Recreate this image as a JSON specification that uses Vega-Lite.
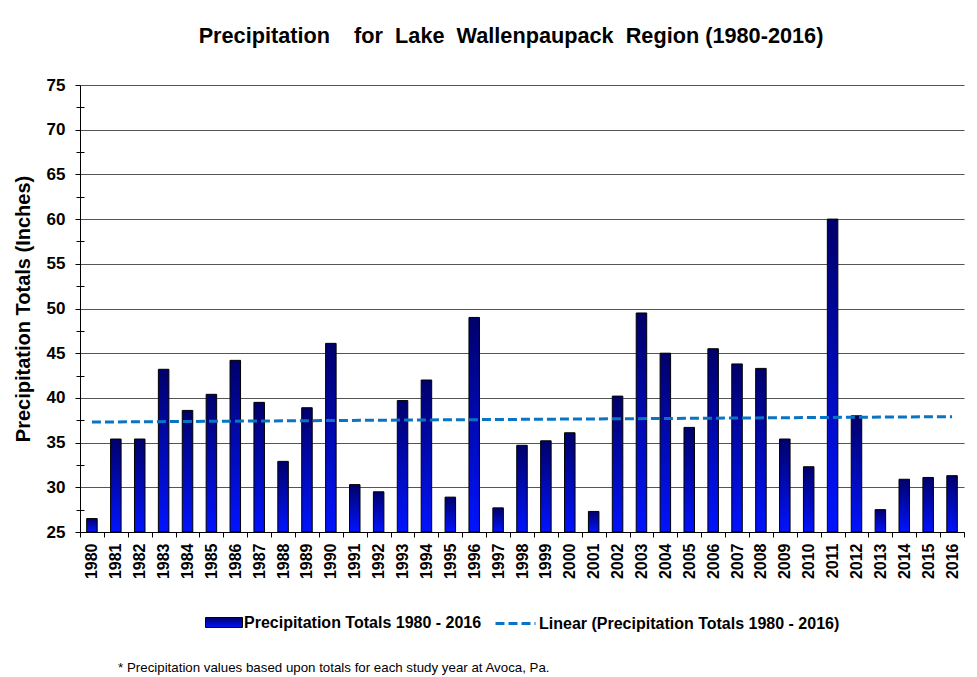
{
  "$schema": "https://vega.github.io/schema/vega-lite/v6.json",
  "background": "white",
  "padding": {"left": 13, "top": 26, "right": 5, "bottom": 5},
  "title": {
    "text": "* Precipitation values based upon totals for each study year at Avoca, Pa.",
    "orient": "bottom",
    "anchor": "start",
    "dx": 105,
    "offset": 29,
    "fontSize": 13.3,
    "fontWeight": "normal",
    "font": "Liberation Sans",
    "color": "black"
  },
  "datasets": {
    "precip": [
      {"Year": "1980", "Precip": 26.5},
      {"Year": "1981", "Precip": 35.4},
      {"Year": "1982", "Precip": 35.4},
      {"Year": "1983", "Precip": 43.2},
      {"Year": "1984", "Precip": 38.6},
      {"Year": "1985", "Precip": 40.4},
      {"Year": "1986", "Precip": 44.2},
      {"Year": "1987", "Precip": 39.5},
      {"Year": "1988", "Precip": 32.9},
      {"Year": "1989", "Precip": 38.9},
      {"Year": "1990", "Precip": 46.1},
      {"Year": "1991", "Precip": 30.3},
      {"Year": "1992", "Precip": 29.5},
      {"Year": "1993", "Precip": 39.7},
      {"Year": "1994", "Precip": 42.0},
      {"Year": "1995", "Precip": 28.9},
      {"Year": "1996", "Precip": 49.0},
      {"Year": "1997", "Precip": 27.7},
      {"Year": "1998", "Precip": 34.7},
      {"Year": "1999", "Precip": 35.2},
      {"Year": "2000", "Precip": 36.1},
      {"Year": "2001", "Precip": 27.3},
      {"Year": "2002", "Precip": 40.2},
      {"Year": "2003", "Precip": 49.5},
      {"Year": "2004", "Precip": 45.0},
      {"Year": "2005", "Precip": 36.7},
      {"Year": "2006", "Precip": 45.5},
      {"Year": "2007", "Precip": 43.8},
      {"Year": "2008", "Precip": 43.3},
      {"Year": "2009", "Precip": 35.4},
      {"Year": "2010", "Precip": 32.3},
      {"Year": "2011", "Precip": 60.0},
      {"Year": "2012", "Precip": 38.0},
      {"Year": "2013", "Precip": 27.5},
      {"Year": "2014", "Precip": 30.9},
      {"Year": "2015", "Precip": 31.1},
      {"Year": "2016", "Precip": 31.3}
    ],
    "trend": [
      {"Year": "1980", "Trend": 37.3},
      {"Year": "2016", "Trend": 37.9}
    ]
  },
  "vconcat": [
    {
      "title": {
        "text": "Precipitation\u00a0\u00a0\u00a0 for\u00a0 Lake\u00a0 Wallenpaupack\u00a0 Region (1980-2016)",
        "anchor": "middle",
        "dx": -11,
        "offset": 28,
        "fontSize": 21.7,
        "fontWeight": "bold",
        "font": "Liberation Sans",
        "color": "black"
      },
      "width": 884,
      "height": 447,
      "layer": [
        {
          "data": {"name": "precip"},
          "mark": {
            "type": "bar",
            "width": {"band": 0.44},
            "strokeWidth": 1,
            "fill": {"gradient": "linear", "x1": 0, "y1": 0, "x2": 0, "y2": 1,
                     "stops": [{"offset": 0, "color": "#00006a"}, {"offset": 1, "color": "#0014ff"}]}
          },
          "encoding": {
            "x": {
              "field": "Year",
              "type": "ordinal",
              "scale": {"paddingInner": 0, "paddingOuter": 0},
              "axis": {
                "title": null,
                "tickBand": "extent",
                "labelAngle": -90,
                "labelFontSize": 16,
                "labelFontWeight": "bold",
                "labelPadding": 6,
                "tickSize": 5,
                "grid": false
              }
            },
            "y": {
              "field": "Precip",
              "type": "quantitative",
              "scale": {"domain": [25, 75], "zero": false, "nice": false},
              "axis": {
                "title": "Precipitation Totals (Inches)",
                "values": [25, 30, 35, 40, 45, 50, 55, 60, 65, 70, 75],
                "grid": true,
                "gridColor": "#555555",
                "tickSize": 5,
                "labelFontSize": 17,
                "labelFontWeight": "bold",
                "labelPadding": 10,
                "titleFontSize": 20,
                "titleFontWeight": "bold",
                "titlePadding": 13
              }
            },
            "y2": {"datum": 25},
            "stroke": {
              "datum": "Precipitation Totals 1980 - 2016",
              "type": "nominal",
              "scale": {"range": ["black"]},
              "legend": {
                "title": null,
                "orient": "bottom",
                "direction": "horizontal",
                "symbolType": "M-1,-0.27H1V0.27H-1Z",
                "symbolSize": 1369,
                "symbolFillColor": "#0000a0",
                "symbolStrokeWidth": 1,
                "labelOffset": 1,
                "offset": 23
              }
            }
          }
        },
        {
          "data": {"name": "trend"},
          "mark": {"type": "line", "color": "#0a74c4", "strokeWidth": 3},
          "encoding": {
            "x": {"field": "Year", "type": "ordinal"},
            "y": {
              "field": "Trend",
              "type": "quantitative",
              "axis": {
                "orient": "left",
                "title": null,
                "values": [27.5, 32.5, 37.5, 42.5, 47.5, 52.5, 57.5, 62.5, 67.5, 72.5],
                "labels": false,
                "grid": false,
                "domain": false,
                "ticks": true,
                "tickSize": 8,
                "offset": -4
              }
            },
            "strokeDash": {
              "datum": "Linear (Precipitation Totals 1980 - 2016)",
              "type": "nominal",
              "scale": {"range": [[9, 4]]},
              "legend": {
                "title": null,
                "orient": "bottom",
                "direction": "horizontal",
                "symbolSize": 1600,
                "symbolStrokeColor": "#0a74c4",
                "symbolStrokeWidth": 3,
                "symbolDash": [7, 3],
                "labelOffset": 2,
                "offset": 23
              }
            }
          }
        }
      ],
      "resolve": {"axis": {"y": "independent"}}
    }
  ],
  "config": {
    "font": "Liberation Sans",
    "view": {"stroke": null},
    "axis": {
      "domainColor": "black",
      "tickColor": "black",
      "labelColor": "black",
      "titleColor": "black",
      "domainWidth": 1,
      "tickWidth": 1
    },
    "legend": {
      "labelFontSize": 16,
      "labelFontWeight": "bold",
      "labelColor": "black",
      "labelLimit": 0,
      "layout": {"bottom": {"anchor": "middle", "direction": "horizontal", "margin": 12, "center": true}}
    }
  }
}
